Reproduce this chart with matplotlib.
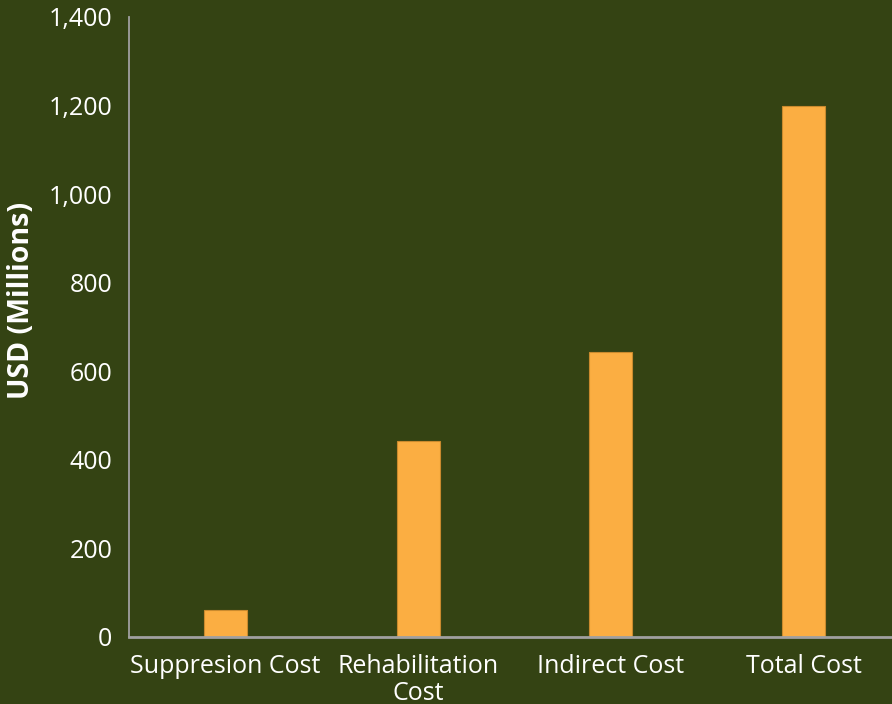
import matplotlib.pyplot as plt
from matplotlib.ticker import FuncFormatter

categories = ["Suppresion Cost", "Rehabilitation\nCost", "Indirect Cost", "Total Cost"]
values = [60, 443, 644, 1200]
y_ticks = [0, 200, 400, 600, 800, 1000, 1200, 1400]

BG = "#344313"
BAR = "#FBAE42"
AXIS = "#A0A0A0"

plt.rcParams["font.family"] = ["Open Sans", "DejaVu Sans"]

fig = plt.figure(figsize=(8.92, 7.04), dpi=100, facecolor=BG)
ax = fig.add_axes([129 / 892, 67 / 704, 763 / 892, 620 / 704], facecolor=BG)

x = list(range(len(categories)))
ax.bar(x, values, width=0.223, color=BAR, edgecolor="#C98A2E", linewidth=0.8, zorder=2)

ax.set_xlim(-0.5, -0.5 + 763 / 192.7)
ax.set_ylim(0, 1400)
ax.set_yticks(y_ticks)
ax.yaxis.set_major_formatter(FuncFormatter(lambda v, _: f"{v:,.0f}"))
ax.set_xticks(x)
ax.set_xticklabels(categories, linespacing=1.1)

for side in ("top", "right"):
    ax.spines[side].set_visible(False)
ax.spines["left"].set_color(AXIS)
ax.spines["left"].set_linewidth(1.3)
ax.spines["bottom"].set_color(AXIS)
ax.spines["bottom"].set_linewidth(2)

ax.tick_params(axis="both", length=0, colors="white", labelsize=18)
ax.tick_params(axis="y", pad=12)
ax.tick_params(axis="x", pad=12)

fig.text(22 / 892, 1 - 300 / 704, "USD (Millions)", color="white", fontsize=20.5,
         fontweight="bold", rotation=90, ha="center", va="center")

fig.savefig("out.png", dpi=100, facecolor=BG)
